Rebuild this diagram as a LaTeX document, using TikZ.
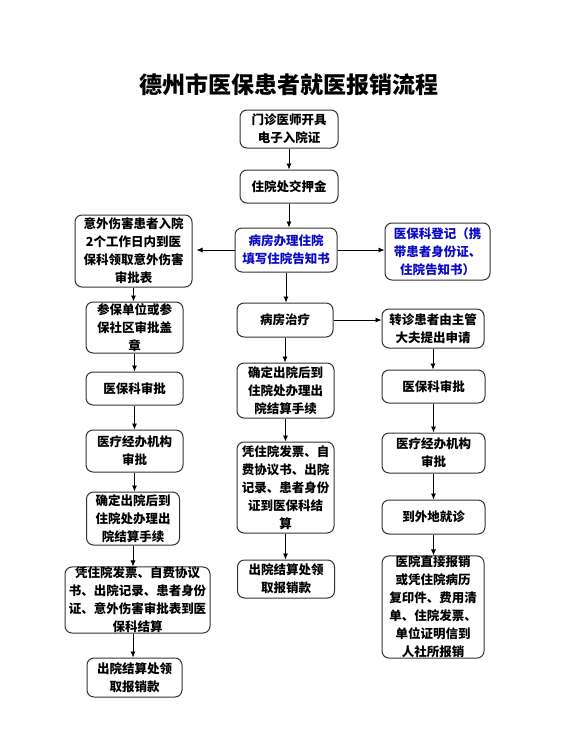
\documentclass[tikz,border=0pt]{standalone}
\usepackage{fontspec}
\newfontfamily\cjk{Noto Sans CJK SC}
\usetikzlibrary{arrows.meta}
\definecolor{txtblue}{RGB}{10,10,200}
\begin{document}
\begin{tikzpicture}[x=1pt,y=-1pt,
  box/.style={draw=black!80, line width=1pt, rounded corners=7pt, align=center, inner sep=0pt,
    font=\cjk\bfseries\fontsize{12.5}{18}\selectfont},
  arr/.style={-{Latex[length=6pt,width=5pt]}, line width=0.8pt}]
\useasboundingbox[fill=white] (0,0) rectangle (577,745);
\node[font=\cjk\bfseries\fontsize{23}{26}\selectfont] (title) at (289,85) {德州市医保患者就医报销流程};
% main column
\node[box, minimum width=98pt, minimum height=38pt] (b1) at (289,129) {门诊医师开具\\电子入院证};
\node[box, minimum width=98pt, minimum height=33pt] (b2) at (289,186.5) {住院处交押金};
\node[box, minimum width=102pt, minimum height=44pt, text=txtblue] (c) at (286,250) {病房办理住院\\填写住院告知书};
\node[box, minimum width=96pt, minimum height=34pt] (t) at (285,320) {病房治疗};
\node[box, minimum width=97pt, minimum height=55pt] (c2) at (285.5,390.5) {确定出院后到\\住院处办理出\\院结算手续};
\node[box, minimum width=97pt, minimum height=91pt] (c3) at (285.5,487.5) {凭住院发票、自\\费协议书、出院\\记录、患者身份\\证到医保科结\\算};
\node[box, minimum width=97pt, minimum height=38pt] (c4) at (286,579) {出院结算处领\\取报销款};
% left column
\node[box, minimum width=117pt, minimum height=72pt] (l1) at (133.5,251) {意外伤害患者入院\\2个工作日内到医\\保科领取意外伤害\\审批表};
\node[box, minimum width=97pt, minimum height=51pt] (l2) at (134.5,327.5) {参保单位或参\\保社区审批盖\\章};
\node[box, minimum width=97pt, minimum height=33pt] (l3) at (134.5,388.5) {医保科审批};
\node[box, minimum width=97pt, minimum height=42pt] (l4) at (134.5,451) {医疗经办机构\\审批};
\node[box, minimum width=93pt, minimum height=53pt] (l5) at (133,518.5) {确定出院后到\\住院处办理出\\院结算手续};
\node[box, minimum width=145pt, minimum height=64pt] (l6) at (137.5,600) {凭住院发票、自费协议\\书、出院记录、患者身份\\证、意外伤害审批表到医\\保科结算};
\node[box, minimum width=95pt, minimum height=39pt] (l7) at (134.5,677.5) {出院结算处领\\取报销款};
% right column
\node[box, minimum width=105pt, minimum height=57pt, text=txtblue] (r1) at (437.5,251.5) {医保科登记（携\\带患者身份证、\\住院告知书）};
\node[box, minimum width=102pt, minimum height=39pt] (r2) at (433,328.5) {转诊患者由主管\\大夫提出申请};
\node[box, minimum width=103pt, minimum height=33pt] (r3) at (433.5,386.5) {医保科审批};
\node[box, minimum width=103pt, minimum height=40pt] (r4) at (433.5,453) {医疗经办机构\\审批};
\node[box, minimum width=103pt, minimum height=34pt] (r5) at (433.5,517) {到外地就诊};
\node[box, minimum width=102pt, minimum height=102pt] (r6) at (433,607) {医院直接报销\\或凭住院病历\\复印件、费用清\\单、住院发票、\\单位证明信到\\人社所报销};
% connectors: main
\draw[arr] (b1.south) -- (b1.south |- b2.north);
\draw[arr] (b2.south) -- (b2.south |- c.north);
\draw[arr] (c.south) -- (c.south |- t.north);
\draw[arr] (t.south) -- (t.south |- c2.north);
\draw[arr] (c2.south) -- (c2.south |- c3.north);
\draw[arr] (c3.south) -- (c3.south |- c4.north);
\draw[arr, shorten >=4pt] (c.west) -- (c.west -| l1.east);
\draw[arr] (c.east) -- (c.east -| r1.west);
\draw[arr] (t.east) -- (t.east -| r2.west);
% left
\draw[arr] (l1.south) -- (l1.south |- l2.north);
\draw[arr] (l2.south) -- (l2.south |- l3.north);
\draw[arr] (l3.south) -- (l3.south |- l4.north);
\draw[arr] (l4.south) -- (l4.south |- l5.north);
\draw[arr] (l5.south) -- (l5.south |- l6.north);
\draw[arr] (l6.south -| l5.south) -- (l5.south |- l7.north);
% right
\draw[arr] (r2.south) -- (r2.south |- r3.north);
\draw[arr] (r3.south) -- (r3.south |- r4.north);
\draw[arr] (r4.south) -- (r4.south |- r5.north);
\draw[arr] (r5.south) -- (r5.south |- r6.north);
\end{tikzpicture}
\end{document}
